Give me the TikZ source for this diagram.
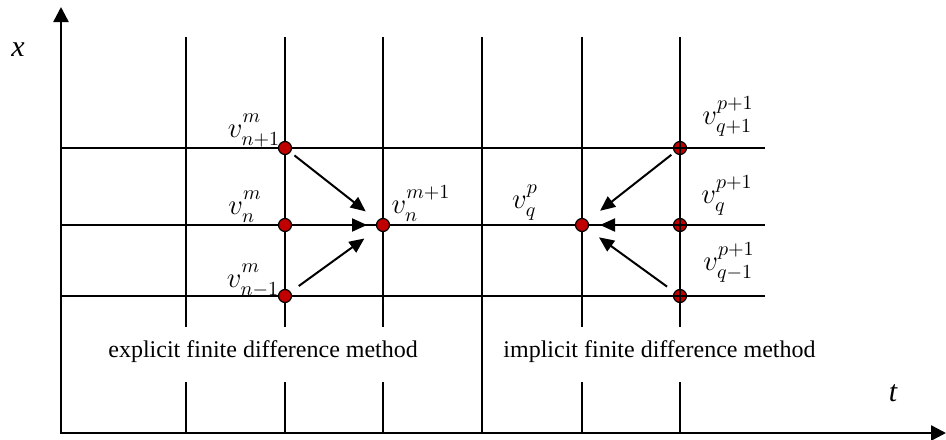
\documentclass[tikz,border=0pt]{standalone}
\usepackage{fontspec}
\setmainfont{Liberation Serif}
\usetikzlibrary{arrows.meta}
\definecolor{ptred}{RGB}{192,0,0}
\newcommand{\vlab}[2]{$v^{#1\vphantom{(}}_{#2\vphantom{(}}$}
\begin{document}
\begin{tikzpicture}[x=0.5pt,y=-0.5pt,
  gridline/.style={line width=1pt},
  axisline/.style={line width=1.25pt,{Triangle[length=7.5pt,width=7.5pt]}-{Triangle[length=7.5pt,width=7.5pt]}},
  pnt/.style={circle,draw=black,fill=ptred,line width=0.6pt,inner sep=0pt,minimum size=6.5pt},
  arr/.style={line width=1pt,-{Triangle[length=7.5pt,width=6.5pt]}},
  lab/.style={font=\fontsize{14.5}{16}\selectfont,inner sep=0pt},
  method/.style={font=\fontsize{12}{14}\selectfont,inner sep=0pt},
  axlab/.style={font=\fontsize{15}{17}\selectfont\itshape,inner sep=0pt}]
\useasboundingbox (0,0) rectangle (946,439);

% implicit right-column points (grid lines run across them)
\node[pnt] (qp) at (680,148) {};
\node[pnt] (qq) at (680,225) {};
\node[pnt] (qm) at (680,296) {};

% grid
\foreach \gx in {186,285,383,482,582,680}
  \draw[gridline] (\gx,37) -- (\gx,433);
\foreach \gy in {148,225,296}
  \draw[gridline] (61,\gy) -- (765,\gy);

% axes
\coordinate (O) at (61,433);
\coordinate (xtip) at (61,7);
\coordinate (ttip) at (946,433);
\draw[axisline] (xtip) -- (O) -- (ttip);
\node[axlab] (xl) at (18,50) {x};
\node[axlab] (tl) at (893,393) {t};

% white label strips
\fill[white] (100,327) rectangle (481.3,382);
\fill[white] (482.7,327) rectangle (830,382);
\node[method,anchor=base west] (expl) at (108,357) {explicit finite difference method};
\node[method,anchor=base west] (impl) at (503,357) {implicit finite difference method};

% explicit points
\node[pnt] (np) at (285,148) {};
\node[pnt] (nn) at (285,225) {};
\node[pnt] (nm) at (285,296) {};
\node[pnt] (ne) at (383,225) {};
% implicit target
\node[pnt] (qe) at (582,225) {};

% explicit arrows
\draw[arr,shorten <=6pt,shorten >=11pt] (np.center) -- (ne.center);
\draw[arr,shorten <=7.5pt,shorten >=8pt] (nn.center) -- (ne.center);
\draw[arr,shorten <=8.5pt,shorten >=11.5pt] (nm.center) -- (ne.center);
% implicit arrows
\draw[arr,shorten <=5.5pt,shorten >=11.5pt] (qp.center) -- (qe.center);
\draw[arr,shorten <=7.5pt,shorten >=9pt] (qq.center) -- (qe.center);
\draw[arr,shorten <=8pt,shorten >=10.5pt] (qm.center) -- (qe.center);

% labels
\node[lab] (lnp) at (254,129) {\vlab{m}{n+1}};
\node[lab] (lnn) at (245,206) {\vlab{m}{n}};
\node[lab] (lnm) at (253,279) {\vlab{m}{n-1}};
\node[lab] (lne) at (421,205) {\vlab{m+1}{n}};
\node[lab] (lqe) at (525,200) {\vlab{p}{q}};
\node[lab] (lqp) at (728,116) {\vlab{p+1}{q+1}};
\node[lab] (lqq) at (727,195) {\vlab{p+1}{q}};
\node[lab] (lqm) at (729,262) {\vlab{p+1}{q-1}};
\end{tikzpicture}
\end{document}
